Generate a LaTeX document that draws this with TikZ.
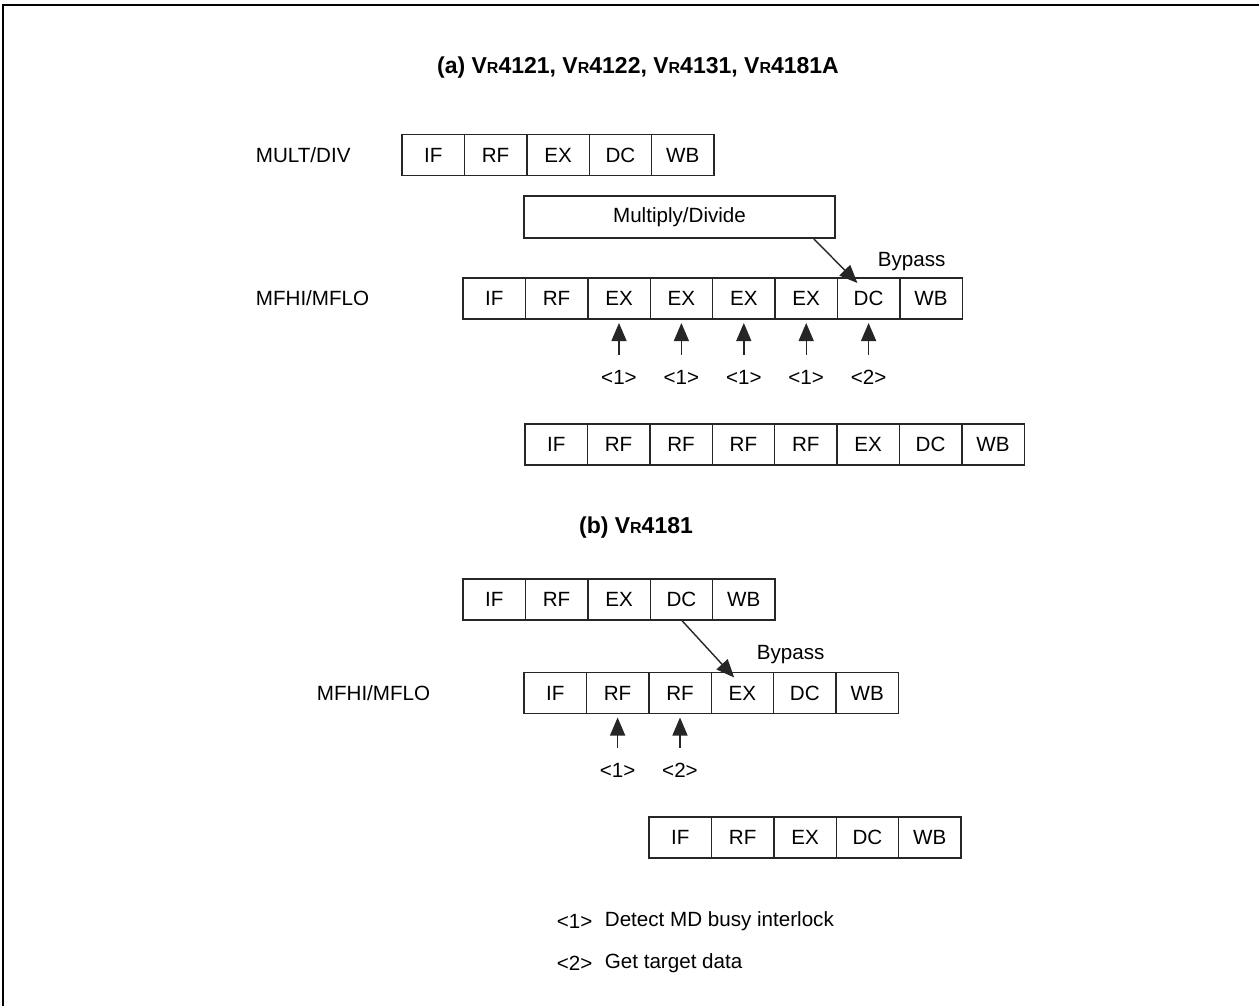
\documentclass[tikz,border=0pt]{standalone}
\usepackage{fontspec}
\setmainfont{Liberation Sans}
\usetikzlibrary{arrows.meta}
\newcommand{\vrname}{V{\fontsize{8}{9}\selectfont R}}

\begin{document}
\begin{tikzpicture}[x=0.5pt,y=0.5pt,yscale=-1,xscale=1,
	font=\fontsize{10.3}{12}\selectfont,
	stage/.style={draw=black!85,line width=0.7pt,minimum width=31.2pt,minimum height=20.5pt,inner sep=0pt,outer sep=0pt},
	caption/.style={font=\fontsize{11.5}{13}\selectfont\bfseries},
	label/.style={anchor=west,inner sep=0.75pt},
	upar/.style={draw=black!85,line width=0.7pt,-{Triangle[length=9pt,width=7.5pt]},shorten <=4pt,shorten >=2pt},
	bypar/.style={draw=black!85,line width=0.7pt,-{Triangle[length=9pt,width=7.5pt]}}]
\useasboundingbox (0,0) rectangle (1259,1006);

%Frame
\draw [line width=1pt] (3,1006) -- (3,5) -- (1259,5);

% Text Node
\node [caption] (ttla) at (638,68) {(a) \vrname4121, \vrname4122, \vrname4131, \vrname4181A};

% MULT/DIV row
\node [label] (mdlbl) at (254,155) {MULT/DIV};
\node [stage] (ma1) at (433.2,155) {IF};
\node [stage] (ma2) at (495.6,155) {RF};
\node [stage] (ma3) at (558,155) {EX};
\node [stage] (ma4) at (620.4,155) {DC};
\node [stage] (ma5) at (682.8,155) {WB};

%Shape: Rectangle
\node [stage,minimum width=155.5pt,minimum height=21pt] (mdiv) at (679.5,217) {Multiply/Divide};

% MFHI/MFLO row
\node [label] (mfa) at (254,298.5) {MFHI/MFLO};
\node [stage] (fa1) at (494.2,298.5) {IF};
\node [stage] (fa2) at (556.6,298.5) {RF};
\node [stage] (fa3) at (619,298.5) {EX};
\node [stage] (fa4) at (681.4,298.5) {EX};
\node [stage] (fa5) at (743.8,298.5) {EX};
\node [stage] (fa6) at (806.2,298.5) {EX};
\node [stage] (fa7) at (868.6,298.5) {DC};
\node [stage] (fa8) at (931,298.5) {WB};
\node [label] (bpa) at (876,262) {Bypass};
\draw [bypar] ([xshift=-11pt]mdiv.south east) -- ([xshift=10pt,yshift=2.5pt]fa7.north west);

% Text Node
\node (ka3) at (619,377) {<1>};
\node (ka4) at (681.4,377) {<1>};
\node (ka5) at (743.8,377) {<1>};
\node (ka6) at (806.2,377) {<1>};
\node (ka7) at (868.6,377) {<2>};
\draw [upar] (ka3) -- (fa3);
\draw [upar] (ka4) -- (fa4);
\draw [upar] (ka5) -- (fa5);
\draw [upar] (ka6) -- (fa6);
\draw [upar] (ka7) -- (fa7);

% next instruction
\node [stage] (na1) at (556.2,444.5) {IF};
\node [stage] (na2) at (618.6,444.5) {RF};
\node [stage] (na3) at (681,444.5) {RF};
\node [stage] (na4) at (743.4,444.5) {RF};
\node [stage] (na5) at (805.8,444.5) {RF};
\node [stage] (na6) at (868.2,444.5) {EX};
\node [stage] (na7) at (930.6,444.5) {DC};
\node [stage] (na8) at (993,444.5) {WB};

% Text Node
\node [caption] (ttlb) at (636,528) {(b) \vrname4181};

% load row
\node [stage] (mb1) at (494.2,599.5) {IF};
\node [stage] (mb2) at (556.6,599.5) {RF};
\node [stage] (mb3) at (619,599.5) {EX};
\node [stage] (mb4) at (681.4,599.5) {DC};
\node [stage] (mb5) at (743.8,599.5) {WB};

% MFHI/MFLO row
\node [label] (mfb) at (315,693) {MFHI/MFLO};
\node [stage] (fb1) at (555.2,693) {IF};
\node [stage] (fb2) at (617.6,693) {RF};
\node [stage] (fb3) at (680,693) {RF};
\node [stage] (fb4) at (742.4,693) {EX};
\node [stage] (fb5) at (804.8,693) {DC};
\node [stage] (fb6) at (867.2,693) {WB};
\node [label] (bpb) at (755,655) {Bypass};
\draw [bypar] (mb4.south) -- ([xshift=11.5pt,yshift=2.5pt]fb4.north west);

% Text Node
\node (kb2) at (617.6,770) {<1>};
\node (kb3) at (680,770) {<2>};
\draw [upar] (kb2) -- (fb2);
\draw [upar] (kb3) -- (fb3);

% next instruction
\node [stage] (nb1) at (680.2,837.5) {IF};
\node [stage] (nb2) at (742.6,837.5) {RF};
\node [stage] (nb3) at (805,837.5) {EX};
\node [stage] (nb4) at (867.4,837.5) {DC};
\node [stage] (nb5) at (929.8,837.5) {WB};

% Text Node
\node [label] (key1) at (555,921) {<1>};
\node [label] (key1t) at (603,921) {Detect MD busy interlock};
\node [label] (key2) at (555,963) {<2>};
\node [label] (key2t) at (603,963) {Get target data};

\end{tikzpicture}
\end{document}
